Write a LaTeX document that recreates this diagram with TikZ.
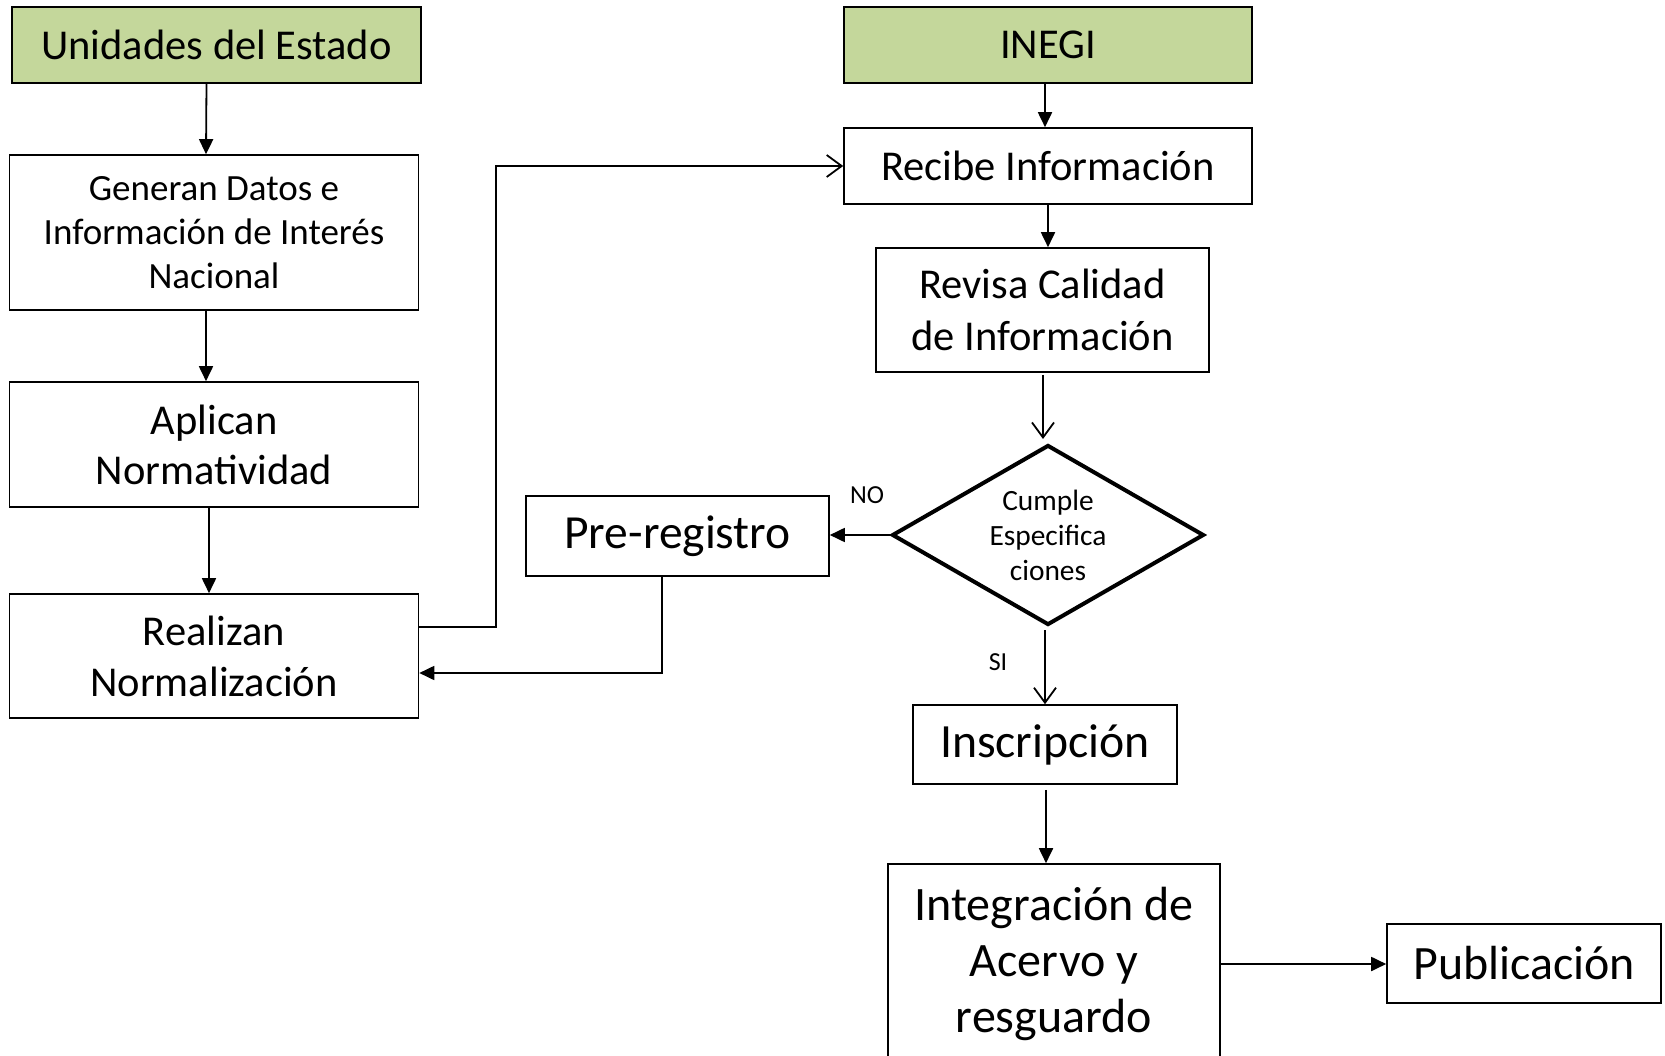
\documentclass[tikz,border=0pt]{standalone}
\usepackage{fontspec}
\setmainfont{Carlito}
\usetikzlibrary{arrows.meta,shapes.geometric}
\definecolor{boxgreen}{HTML}{C4D79B}
\tikzset{
  box/.style={draw=black, line width=1.6pt, rectangle, align=center, inner sep=0pt},
  hdr/.style={box, fill=boxgreen},
  conn/.style={line width=1.8pt},
  farrow/.style={conn, -{Triangle[length=15pt,width=14pt]}},
  oarrow/.style={conn, -{Straight Barb[length=15pt,width=22pt,line width=1.8pt]}},
}
\begin{document}
\begin{tikzpicture}[x=1pt,y=-1pt]
\useasboundingbox (0,0) rectangle (1665,1056);
\clip (0,0) rectangle (1665,1056);
\fill[white] (0,0) rectangle (1665,1056);
% left column
\node[hdr, minimum width=409pt, minimum height=76pt, font=\fontsize{42.5pt}{51pt}\selectfont] (u) at (216.5,45) {Unidades del Estado};
\node[box, minimum width=409pt, minimum height=155pt, font=\fontsize{37pt}{44pt}\selectfont] (g) at (214,232.5) {Generan Datos e\\Información de Interés\\Nacional};
\node[box, minimum width=409pt, minimum height=125pt, font=\fontsize{42.5pt}{50pt}\selectfont] (a) at (214,444.5) {Aplican\\Normatividad};
\node[box, minimum width=409pt, minimum height=124pt, font=\fontsize{42.5pt}{51pt}\selectfont] (r) at (214,656) {Realizan\\Normalización};
% right column
\node[hdr, minimum width=408pt, minimum height=76pt, font=\fontsize{42.5pt}{51pt}\selectfont] (i) at (1048,45) {INEGI};
\node[box, minimum width=408pt, minimum height=76pt, font=\fontsize{42.5pt}{51pt}\selectfont] (rec) at (1048,166) {Recibe Información};
\node[box, minimum width=333pt, minimum height=124pt, font=\fontsize{42.5pt}{52pt}\selectfont] (rev) at (1042.5,310) {Revisa Calidad\\de Información};
\node[draw=black, line width=4pt, diamond, aspect=1.73, minimum width=312pt, minimum height=180pt, inner sep=0pt, align=center, font=\fontsize{29.4pt}{35pt}\selectfont] (d) at (1048,535) {Cumple\\Especifica\\ciones};
\node[box, minimum width=303pt, minimum height=80pt, font=\fontsize{47.5pt}{56pt}\selectfont] (p) at (677.5,536) {\raisebox{-3pt}{Pre-registro}};
\node[box, minimum width=264pt, minimum height=79pt, font=\fontsize{47.7pt}{56pt}\selectfont] (ins) at (1045,744.5) {\raisebox{-3pt}{Inscripción}};
\node[box, minimum width=332pt, minimum height=200pt, font=\fontsize{48pt}{56pt}\selectfont] (int) at (1054,964) {Integración de\\Acervo y\\resguardo};
\node[box, minimum width=274pt, minimum height=79pt, font=\fontsize{47.9pt}{56pt}\selectfont] (pub) at (1524,963.5) {Publicación};
% labels
\node[font=\fontsize{26pt}{31pt}\selectfont] (no) at (867,495) {NO};
\node[font=\fontsize{26pt}{31pt}\selectfont] (si) at (998,662) {SI};
% connectors
\draw[farrow] ([xshift=-10pt]u.south) -- ([xshift=-8pt]g.north);
\draw[farrow] ([xshift=-8pt]g.south) -- ([xshift=-8pt]a.north);
\draw[farrow] ([xshift=-5pt]a.south) -- ([xshift=-5pt]r.north);
\draw[oarrow] ([yshift=29pt]r.east) -- ++(77,0) |- (rec.west);
\draw[farrow] ([xshift=-15.5pt]p.south) |- ([yshift=-17pt]r.east);
\draw[farrow] ([xshift=-3pt]i.south) -- ([xshift=-3pt]rec.north);
\draw[farrow] (rec.south) -- ([xshift=5.5pt]rev.north);
\draw[oarrow] ([xshift=0.5pt,yshift=-2pt]rev.south) -- ([xshift=-5pt,yshift=4pt]d.north);
\draw[farrow] (d.west) -- (d.west -| p.east);
\draw[oarrow] ([xshift=-3pt,yshift=-3pt]d.south) -- (ins.north);
\draw[farrow] ([xshift=1pt,yshift=-5pt]ins.south) -- ([xshift=-8pt]int.north);
\draw[farrow] (int.east) -- (int.east -| pub.west);
\end{tikzpicture}
\end{document}
